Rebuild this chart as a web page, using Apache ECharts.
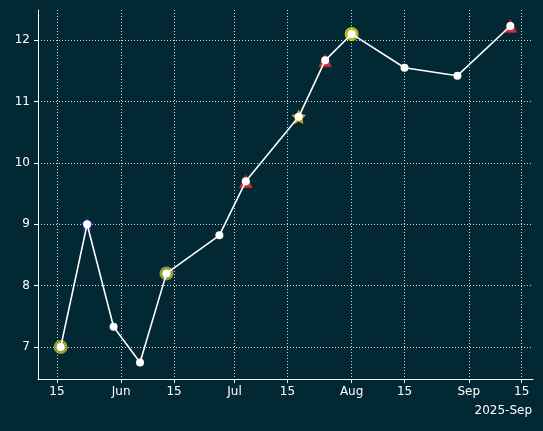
<!DOCTYPE html><html><head><meta charset="utf-8"><script src="https://cdn.jsdelivr.net/npm/echarts@6/dist/echarts.min.js"></script>
<style>html,body{margin:0;background:#022833}#c{width:543px;height:431px}</style></head><body><div id="c"></div><script>
const dates=['2025-05-16','2025-05-23','2025-05-30','2025-06-06','2025-06-13','2025-06-27','2025-07-04','2025-07-18','2025-07-25','2025-08-01','2025-08-15','2025-08-29','2025-09-12'];
const values=[7.0,9.0,7.33,6.75,8.2,8.82,9.7,10.75,11.67,12.1,11.55,11.42,12.23];
const olivePts=[0,4];const bluePts=[1];const redPts=[6,8,12];const starPts=[7];const yellowPts=[9];
const tickDates=['2025-05-15','2025-06-01','2025-06-15','2025-07-01','2025-07-15','2025-08-01','2025-08-15','2025-09-01','2025-09-15'];
const tickLabels=['15','Jun','15','Jul','15','Aug','15','Sep','15'];
const ts=d=>new Date(d+'T00:00:00Z').getTime();
const tickTs=tickDates.map(ts);
const pick=(idx)=>idx.map(i=>[ts(dates[i]),values[i]]);
const c=echarts.init(document.getElementById('c'));
const ax='#ffffff';
const star='path://M0,-10L2.9,-4L9.5,-3.1L4.8,1.5L5.9,8.1L0,5L-5.9,8.1L-4.8,1.5L-9.5,-3.1L-2.9,-4Z';
c.setOption({backgroundColor:'#022833',animation:false,
grid:{left:38,right:10,top:10,bottom:52},
xAxis:{type:'value',min:ts('2025-05-10'),max:ts('2025-09-18'),
 axisLine:{lineStyle:{color:ax}},
 axisTick:{show:true,customValues:tickTs,length:4,lineStyle:{color:ax}},
 axisLabel:{color:ax,fontSize:12,fontFamily:'DejaVu Sans',margin:7,
  customValues:tickTs,formatter:v=>{const i=tickTs.indexOf(v);return i>=0?tickLabels[i]:''}},
 splitLine:{show:true,customValues:tickTs,lineStyle:{color:'#cfd8dc',type:[1,2],width:1}}},
yAxis:{type:'value',min:6.48,max:12.49,
 axisLine:{show:true,lineStyle:{color:ax}},
 axisTick:{show:true,customValues:[7,8,9,10,11,12],length:4,lineStyle:{color:ax}},
 axisLabel:{color:ax,fontSize:12,fontFamily:'DejaVu Sans',customValues:[7,8,9,10,11,12]},
 splitLine:{show:true,customValues:[7,8,9,10,11,12],lineStyle:{color:'#cfd8dc',type:[1,2],width:1}}},
graphic:[{type:'text',right:11,top:405,style:{text:'2025-Sep',fill:ax,fontSize:12,fontFamily:'DejaVu Sans'}}],
series:[
{type:'scatter',data:pick(olivePts),symbol:'circle',symbolSize:14,itemStyle:{color:'#a8a832',opacity:0.9},z:1},
{type:'scatter',data:pick(bluePts),symbol:star,symbolSize:13,itemStyle:{color:'#3a3aff'},z:1},
{type:'scatter',data:pick(redPts),symbol:'triangle',symbolSize:13,itemStyle:{color:'#e8424a',borderColor:'#b01c22',borderWidth:1},z:1},
{type:'scatter',data:pick(starPts),symbol:star,symbolSize:13,itemStyle:{color:'#f5a020',borderColor:'#e0d000',borderWidth:1},z:1},
{type:'scatter',data:pick(yellowPts),symbol:'circle',symbolSize:14,itemStyle:{color:'#e0e020'},z:1},
{type:'line',data:dates.map((d,i)=>[ts(d),values[i]]),symbol:'circle',symbolSize:8,lineStyle:{color:'#fff',width:1.6},itemStyle:{color:'#fff'},z:3}
]});
</script></body></html>
